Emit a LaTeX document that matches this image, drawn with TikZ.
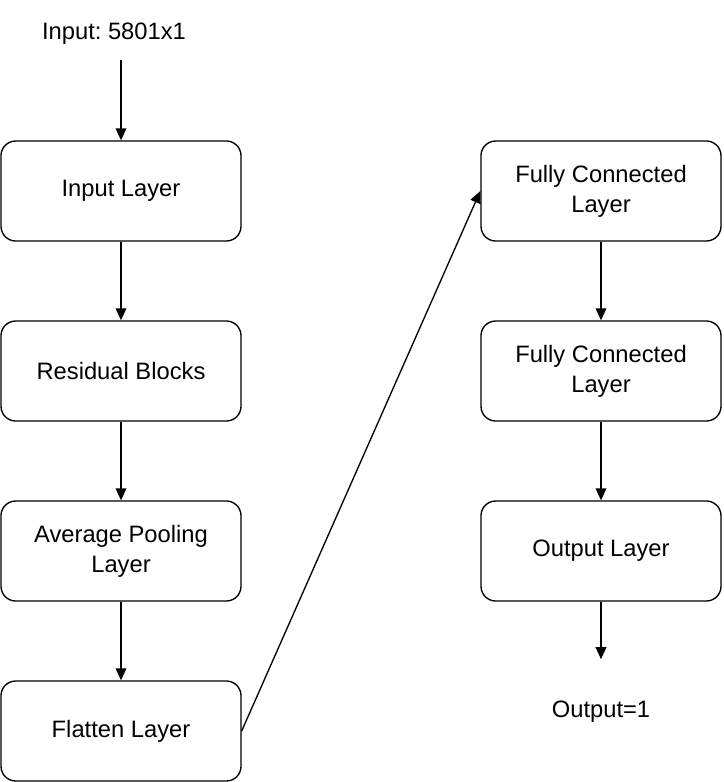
\documentclass[tikz,border=0pt]{standalone}
\usepackage{fontspec}
\setmainfont{Liberation Sans}
\usetikzlibrary{arrows.meta}
\frenchspacing

\tikzset{
  layer/.style={draw,rounded corners=11pt,minimum width=180pt,minimum height=75pt,
    align=center,line width=1pt},
  flow/.style={-{Triangle[length=9pt,width=8pt]},line width=1pt}
}

\begin{document}
\begin{tikzpicture}[x=0.75pt,y=-0.75pt,font=\fontsize{17.8}{22.5}\selectfont]
  \useasboundingbox (0,0) rectangle (724,782);

  % Left column
  \node (input) at (114,34) {Input: 5801x1};
  \node[layer] (inlayer) at (121,191) {Input Layer};
  \node[layer] (resblk) at (121,371) {Residual Blocks};
  \node[layer] (avgpool) at (121,551) {Average Pooling\\Layer};
  \node[layer] (flatten) at (121,731) {Flatten Layer};

  % Right column
  \node[layer] (fcone) at (601,191) {Fully Connected\\Layer};
  \node[layer] (fctwo) at (601,371) {Fully Connected\\Layer};
  \node[layer] (outlayer) at (601,551) {Output Layer};
  \node (output) at (601,712) {Output=1};

  % Connectors
  \draw[flow,shorten <=8pt] (inlayer.north |- input.south) -- (inlayer);
  \draw[flow] (inlayer) -- (resblk);
  \draw[flow] (resblk) -- (avgpool);
  \draw[flow] (avgpool) -- (flatten);
  \draw[flow] (flatten.east) -- (fcone.west);
  \draw[flow] (fcone) -- (fctwo);
  \draw[flow] (fctwo) -- (outlayer);
  \draw[flow,shorten >=28pt] (outlayer) -- (output);
\end{tikzpicture}
\end{document}
